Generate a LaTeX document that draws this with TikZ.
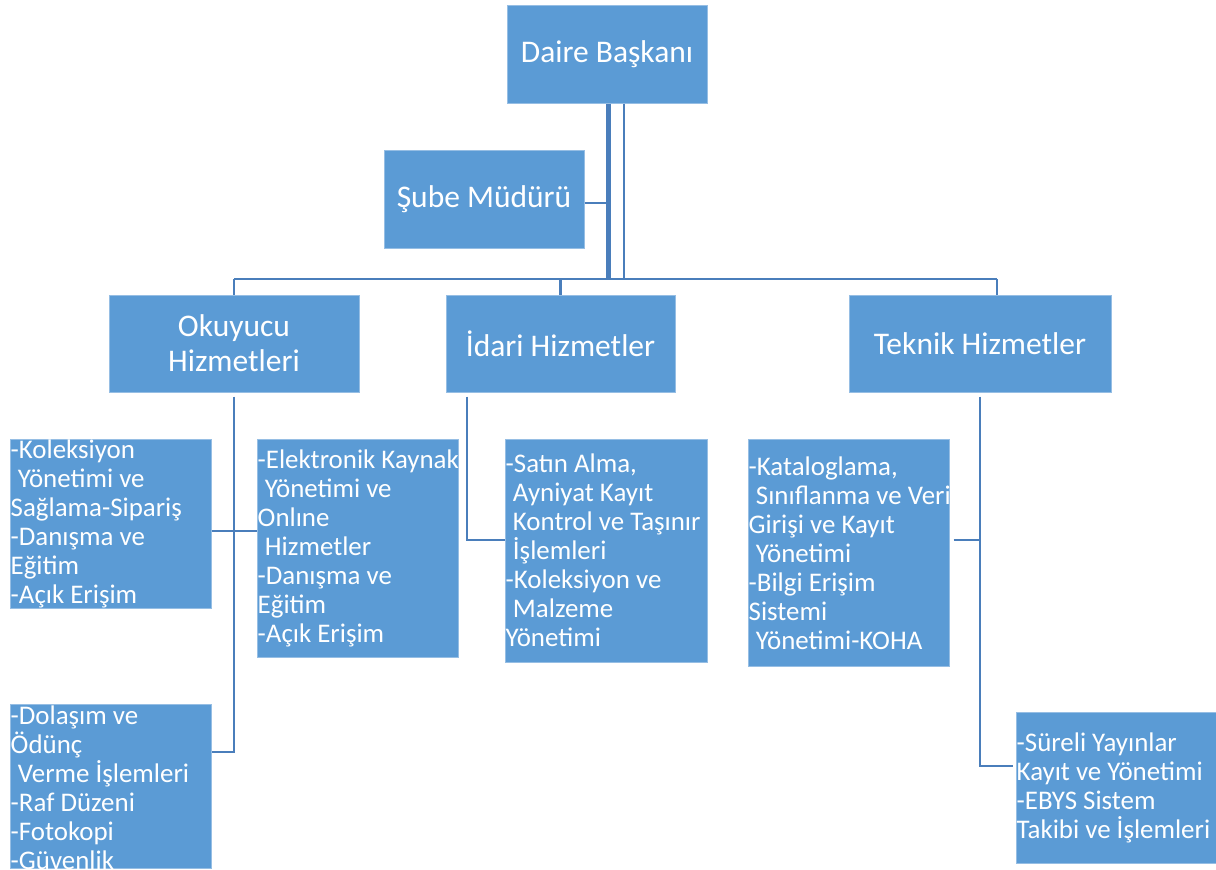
\documentclass[tikz,border=0pt]{standalone}
\usepackage{fontspec}
\setmainfont{Carlito}
\definecolor{boxblue}{RGB}{91,155,213}
\definecolor{boxedge}{RGB}{150,190,228}
\definecolor{linkblue}{RGB}{74,126,187}
\newcommand\lsp{\hspace*{0.27em}}
\begin{document}
\begin{tikzpicture}[x=1pt,y=-1pt,
  boxbase/.style={fill=boxblue,draw=boxedge,line width=1pt,inner sep=0pt},
  mainbox/.style={boxbase,text=white,align=center,
    font=\fontsize{31.5}{35}\selectfont},
  subbox/.style={boxbase},
  subtext/.style={anchor=west,inner sep=0pt,text=white,align=flush left,
    font=\fontsize{26.9}{29}\selectfont},
  conn/.style={draw=linkblue,line width=2.8pt},
  trunk/.style={draw=linkblue,line width=5pt}]
\useasboundingbox (0,0) rectangle (1216,870);

% main boxes
\node[mainbox,minimum width=200,minimum height=98] (daire) at (607,54) {Daire Başkanı};
\node[mainbox,minimum width=200,minimum height=98] (sube) at (484,199) {Şube Müdürü};
\node[mainbox,minimum width=250,minimum height=97] (okuyucu) at (234,343.5) {Okuyucu\\Hizmetleri};
\node[mainbox,minimum width=229,minimum height=97] (idari) at (560.5,343.5) {İdari Hizmetler};
\node[mainbox,minimum width=262,minimum height=97] (teknik) at (980,343.5) {Teknik Hizmetler};

% sub boxes
\node[subbox,minimum width=201,minimum height=169] (l1) at (110.5,523.5) {};
\node[subtext,text width=230] (l1t) at ([xshift=1]l1.west) {-Koleksiyon\\\lsp Yönetimi ve\\Sağlama-Sipariş\\-Danışma ve\\Eğitim\\-Açık Erişim};

\node[subbox,minimum width=201,minimum height=164] (l2) at (110.5,786) {};
\node[subtext,text width=230] (l2t) at ([xshift=1,yshift=-1.5]l2.west) {-Dolaşım ve\\Ödünç\\\lsp Verme İşlemleri\\-Raf Düzeni\\-Fotokopi\\-Güvenlik};

\node[subbox,minimum width=201,minimum height=218] (el) at (357.5,548) {};
\node[subtext,text width=230] (elt) at ([xshift=1]el.west) {-Elektronik Kaynak\\\lsp Yönetimi ve\\Onlıne\\\lsp Hizmetler\\-Danışma ve\\Eğitim\\-Açık Erişim};

\node[subbox,minimum width=202,minimum height=223] (sa) at (606,550.5) {};
\node[subtext,text width=230] (sat) at ([xshift=1]sa.west) {-Satın Alma,\\\lsp Ayniyat Kayıt\\\lsp Kontrol ve Taşınır\\\lsp İşlemleri\\-Koleksiyon ve\\\lsp Malzeme\\Yönetimi};

\node[subbox,minimum width=201,minimum height=227] (ka) at (848.5,552.5) {};
\node[subtext,text width=230] (kat) at ([xshift=1,yshift=-1]ka.west) {-Kataloglama,\\\lsp Sınıflanma ve Veri\\Girişi ve Kayıt\\\lsp Yönetimi\\-Bilgi Erişim\\Sistemi\\\lsp Yönetimi-KOHA};

\node[subbox,minimum width=200,minimum height=151] (su) at (1116,787.5) {};
\node[subtext,text width=230] (sut) at ([xshift=1]su.west) {-Süreli Yayınlar\\Kayıt ve Yönetimi\\-EBYS Sistem\\Takibi ve İşlemleri};

% connector helper points
\coordinate (busL) at (234,279);
\coordinate (busR) at (997,279);
\coordinate (okA) at (234,531);
\coordinate (okB) at (234,752);
\coordinate (idA) at (467,540);
\coordinate (tkA) at (980,540);
\coordinate (tkB) at (980,766);

% trunk from Daire Başkanı
\draw[trunk] ([xshift=1]daire.south) -- ([xshift=1]daire.south |- busL);
\draw[conn] ([xshift=17]daire.south) -- ([xshift=17]daire.south |- busL);
\draw[conn] ([yshift=-4]sube.east) -- ([yshift=-4]sube.east -| 608,0);
\draw[conn] (busL) -- (busR);
\draw[conn] (busL) -- (okuyucu.north);
\draw[conn] (idari.north |- busL) -- (idari.north);
\draw[conn] (busR) -- (busR |- teknik.north);

% Okuyucu Hizmetleri branch
\draw[conn] ([yshift=-4]okuyucu.south) -- (okB) -- (okB -| l2.east);
\draw[conn] (okA -| l1.east) -- (okA -| el.west);

% İdari Hizmetler branch
\draw[conn] (idA |- idari.south) ++(0,4) -- (idA) -- (idA -| sa.west);

% Teknik Hizmetler branch
\draw[conn] ([yshift=-4]teknik.south) -- (tkB) -- ([xshift=-3]tkB -| su.west);
\draw[conn] ([xshift=4]tkA -| ka.east) -- (tkA);
\end{tikzpicture}
\end{document}
